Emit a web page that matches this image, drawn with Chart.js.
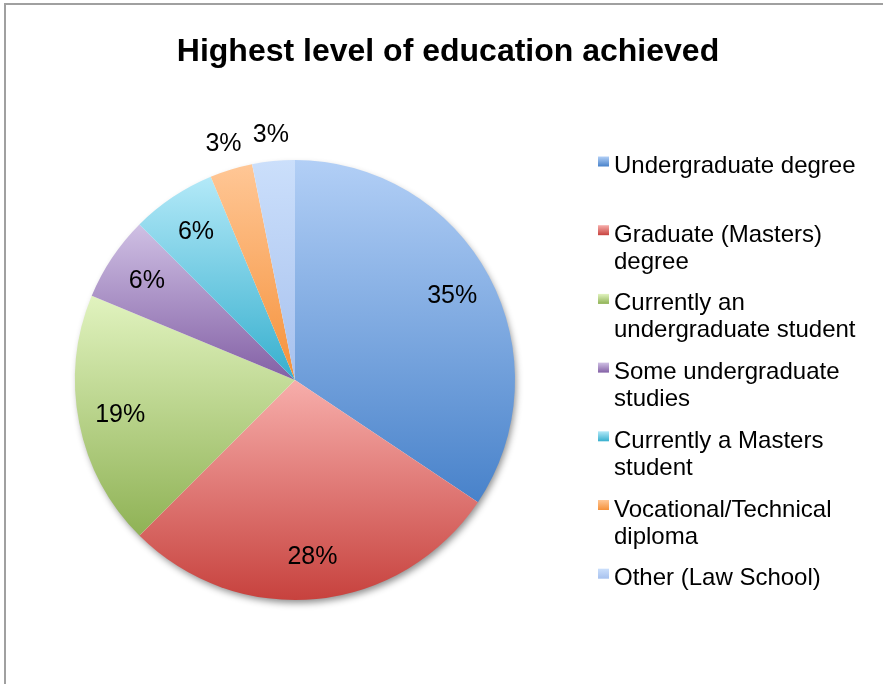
<!DOCTYPE html>
<html>
<head>
<meta charset="utf-8">
<script src="https://cdn.jsdelivr.net/npm/chart.js@4/dist/chart.umd.min.js"></script>
<style>
  html, body { margin: 0; padding: 0; background: #fff; overflow: hidden; }
  #wrap { position: relative; width: 883px; height: 684px; }
  #frame { position: absolute; left: 4px; top: 3px; width: 2000px; height: 2000px;
           border-left: 2px solid #a0a0a0; border-top: 2px solid #a0a0a0; pointer-events: none; }
  canvas { position: absolute; left: 0; top: 0; }
</style>
</head>
<body>
<div id="wrap">
  <canvas id="c" width="883" height="684"></canvas>
  <div id="frame"></div>
</div>
<script>
// ---- data ----
const chartTitle = "Highest level of education achieved";
const categories = [
  "Undergraduate degree",
  "Graduate (Masters) degree",
  "Currently an undergraduate student",
  "Some undergraduate studies",
  "Currently a Masters student",
  "Vocational/Technical diploma",
  "Other (Law School)"
];
const counts = [11, 9, 6, 2, 2, 1, 1];
const topColors    = ["#b2cff6", "#f7aeab", "#e1f3bf", "#cfc0e4", "#b3e9f8", "#ffc796", "#cbdffb"];
const bottomColors = ["#4882ca", "#c7423e", "#8fb255", "#8360a5", "#36afce", "#f5913a", "#a7c1ee"];

// percentages rounded so that they sum to 100 (largest remainder)
function roundedPercents(vals) {
  const total = vals.reduce((a, b) => a + b, 0);
  const raw = vals.map(v => v / total * 100);
  const fl = raw.map(Math.floor);
  let left = 100 - fl.reduce((a, b) => a + b, 0);
  const order = raw.map((v, i) => [v - Math.floor(v), i]).sort((a, b) => b[0] - a[0]);
  for (let k = 0; k < left; k++) fl[order[k][1]] += 1;
  return fl;
}
const percents = roundedPercents(counts);

function sliceGradient(ctx, chart, i) {
  const area = chart.chartArea;
  if (!area) return topColors[i];
  const cx = (area.left + area.right) / 2, cy = (area.top + area.bottom) / 2;
  const r = Math.min(area.right - area.left, area.bottom - area.top) / 2;
  const total = counts.reduce((a, b) => a + b, 0);
  let cum = 0;
  for (let k = 0; k < i; k++) cum += counts[k];
  const a0 = -Math.PI / 2 + cum / total * 2 * Math.PI;
  const a1 = -Math.PI / 2 + (cum + counts[i]) / total * 2 * Math.PI;
  const ys = [cy, cy + r * Math.sin(a0), cy + r * Math.sin(a1)];
  if (a0 <= Math.PI / 2 && a1 >= Math.PI / 2) ys.push(cy + r);
  if ((a0 <= -Math.PI / 2 && a1 >= -Math.PI / 2) || (a0 <= 1.5 * Math.PI && a1 >= 1.5 * Math.PI)) ys.push(cy - r);
  const y0 = Math.min(...ys), y1 = Math.max(...ys);
  const g = ctx.createLinearGradient(0, y0, 0, y1);
  g.addColorStop(0, topColors[i]);
  g.addColorStop(1, bottomColors[i]);
  return g;
}

const FONT = "'Liberation Sans', Arial, Helvetica, sans-serif";

const shadowPlugin = {
  id: 'pieShadow',
  beforeDatasetsDraw(chart) {
    const arc = chart.getDatasetMeta(0).data[0];
    if (!arc) return;
    const ctx = chart.ctx;
    ctx.save();
    ctx.shadowColor = 'rgba(0,0,0,0.45)';
    ctx.shadowBlur = 7;
    ctx.shadowOffsetX = 2;
    ctx.shadowOffsetY = 4;
    ctx.fillStyle = '#ffffff';
    ctx.beginPath();
    ctx.arc(arc.x, arc.y, arc.outerRadius - 1, 0, Math.PI * 2);
    ctx.fill();
    ctx.restore();
  }
};

const labelPlugin = {
  id: 'sliceLabels',
  afterDatasetsDraw(chart) {
    const ctx = chart.ctx;
    const meta = chart.getDatasetMeta(0);
    ctx.save();
    ctx.font = "25px " + FONT;
    ctx.fillStyle = '#000';
    ctx.textAlign = 'center';
    ctx.textBaseline = 'middle';
    meta.data.forEach((arc, i) => {
      const mid = (arc.startAngle + arc.endAngle) / 2;
      const f = percents[i] < 5 ? 1.12 : 0.81;
      const x = arc.x + Math.cos(mid) * arc.outerRadius * f;
      const y = arc.y + Math.sin(mid) * arc.outerRadius * f;
      ctx.fillText(percents[i] + '%', x, y);
    });
    ctx.restore();
  }
};

const titleLegendPlugin = {
  id: 'titleLegend',
  afterDraw(chart) {
    const ctx = chart.ctx;
    ctx.save();
    // title
    ctx.font = "bold 32px " + FONT;
    ctx.fillStyle = '#000';
    ctx.textAlign = 'center';
    ctx.textBaseline = 'alphabetic';
    ctx.fillText(chartTitle, 448, 61);
    // legend
    ctx.font = "24px " + FONT;
    ctx.textAlign = 'left';
    const textX = 614, maxW = 252, firstBase = 173, step = 68.7, lineH = 27;
    categories.forEach((name, i) => {
      const words = name.split(' ');
      const lines = [];
      let cur = '';
      words.forEach(w => {
        const t = cur ? cur + ' ' + w : w;
        if (cur && ctx.measureText(t).width > maxW) { lines.push(cur); cur = w; }
        else cur = t;
      });
      if (cur) lines.push(cur);
      const base = firstBase + step * i;
      const g = ctx.createLinearGradient(0, base - 16.5, 0, base - 6.5);
      g.addColorStop(0, topColors[i]);
      g.addColorStop(1, bottomColors[i]);
      ctx.fillStyle = g;
      ctx.fillRect(598, base - 16.5, 11, 10);
      ctx.fillStyle = '#000';
      lines.forEach((ln, k) => ctx.fillText(ln, textX, base + k * lineH));
    });
    ctx.restore();
  }
};

new Chart(document.getElementById('c'), {
  type: 'pie',
  data: {
    labels: categories,
    datasets: [{
      data: counts,
      backgroundColor: (c) => (c.type === 'data' ? sliceGradient(c.chart.ctx, c.chart, c.dataIndex) : '#ccc'),
      borderWidth: 0,
      hoverOffset: 0
    }]
  },
  options: {
    responsive: false,
    animation: false,
    devicePixelRatio: 1,
    layout: { padding: { left: 75, top: 160, right: 368, bottom: 84 } },
    plugins: {
      legend: { display: false },
      title: { display: false },
      tooltip: { enabled: false }
    }
  },
  plugins: [shadowPlugin, labelPlugin, titleLegendPlugin]
});
</script>
</body>
</html>
